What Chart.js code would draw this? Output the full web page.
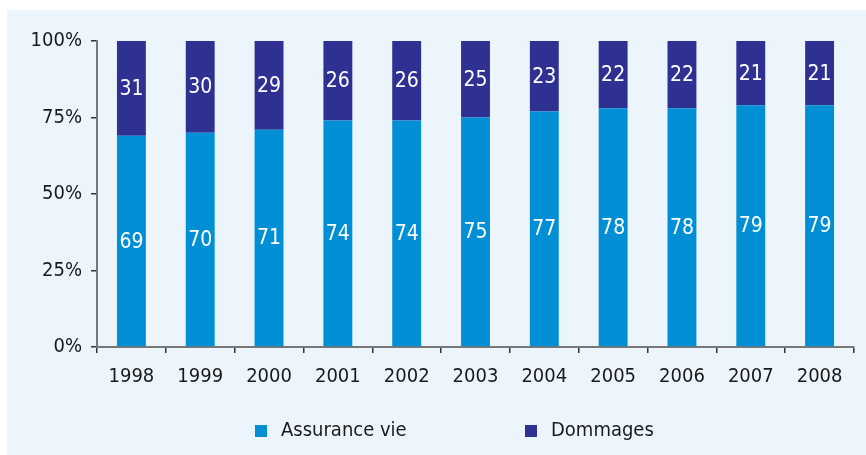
<!DOCTYPE html>
<html><head><meta charset="utf-8">
<script src="https://cdn.jsdelivr.net/npm/chart.js@4/dist/chart.umd.min.js"></script>
<style>html,body{margin:0;padding:0;background:#fff;}#wrap{width:866px;height:455px;position:relative;}</style>
</head><body><div id="wrap"><canvas id="c" width="866" height="455"></canvas></div>
<script>
const categories = ['1998','1999','2000','2001','2002','2003','2004','2005','2006','2007','2008'];
const assuranceVie = [69,70,71,74,74,75,77,78,78,79,79];
const dommages = [31,30,29,26,26,25,23,22,22,21,21];
const seriesNames = ['Assurance vie','Dommages'];
const yTicks = [0,25,50,75,100];

const FONT = '"DejaVu Sans Condensed","Liberation Sans Narrow",sans-serif';
const COL_VIE = '#008fd5';
const COL_DOM = '#2e3192';

const panelPlugin = {
  id:'panel',
  beforeDraw(chart){
    const ctx = chart.ctx;
    ctx.save();
    ctx.fillStyle = '#edf5fc';
    ctx.fillRect(7,10,chart.width-7,chart.height-10);
    ctx.restore();
  }
};
const valueLabels = {
  id:'valueLabels',
  afterDatasetsDraw(chart){
    const ctx = chart.ctx;
    ctx.save();
    ctx.fillStyle = '#ffffff';
    ctx.font = '21px ' + FONT;
    ctx.textAlign = 'center';
    ctx.textBaseline = 'middle';
    chart.data.datasets.forEach((ds,i)=>{
      const meta = chart.getDatasetMeta(i);
      meta.data.forEach((bar,j)=>{
        const y = (bar.y + bar.base)/2;
        ctx.fillText(String(ds.data[j]), bar.x, y+1);
      });
    });
    ctx.restore();
  }
};
const customLegend = {
  id:'customLegend',
  afterDraw(chart){
    const ctx = chart.ctx;
    ctx.save();
    ctx.font = '20px ' + FONT;
    ctx.textBaseline = 'middle';
    ctx.textAlign = 'left';
    const starts = [255,525];
    chart.data.datasets.forEach((ds,i)=>{
      const x = starts[i];
      ctx.fillStyle = ds.backgroundColor;
      ctx.fillRect(x,425,12,12);
      ctx.fillStyle = '#1a1a1a';
      ctx.fillText(ds.label, x+26, 431);
    });
    ctx.restore();
  }
};

new Chart(document.getElementById('c'),{
  type:'bar',
  data:{
    labels:categories,
    datasets:[
      {label:seriesNames[0],data:assuranceVie,backgroundColor:COL_VIE,barPercentage:0.42,categoryPercentage:1},
      {label:seriesNames[1],data:dommages,backgroundColor:COL_DOM,barPercentage:0.42,categoryPercentage:1}
    ]
  },
  options:{
    responsive:false,
    animation:false,
    devicePixelRatio:1,
    layout:{padding:{left:0,right:12,top:41,bottom:0}},
    plugins:{legend:{display:false},tooltip:{enabled:false}},
    scales:{
      x:{
        stacked:true,
        grid:{display:true,drawOnChartArea:false,drawTicks:true,tickLength:6,color:'#333',lineWidth:1.5},
        border:{display:true,color:'#777',width:2},
        ticks:{color:'#1a1a1a',font:{family:FONT,size:20},padding:12,maxRotation:0},
        afterFit(s){s.height=108;}
      },
      y:{
        stacked:true,min:0,max:100,
        afterBuildTicks(s){s.ticks = yTicks.map(v=>({value:v}));},
        grid:{display:true,drawOnChartArea:false,drawTicks:true,tickLength:6,color:'#333',lineWidth:1.5},
        border:{display:true,color:'#777',width:2},
        ticks:{color:'#1a1a1a',font:{family:FONT,size:20},padding:9,callback:v=>v+'%'},
        afterFit(s){s.width=97;}
      }
    }
  },
  plugins:[panelPlugin,valueLabels,customLegend]
});
</script></body></html>
